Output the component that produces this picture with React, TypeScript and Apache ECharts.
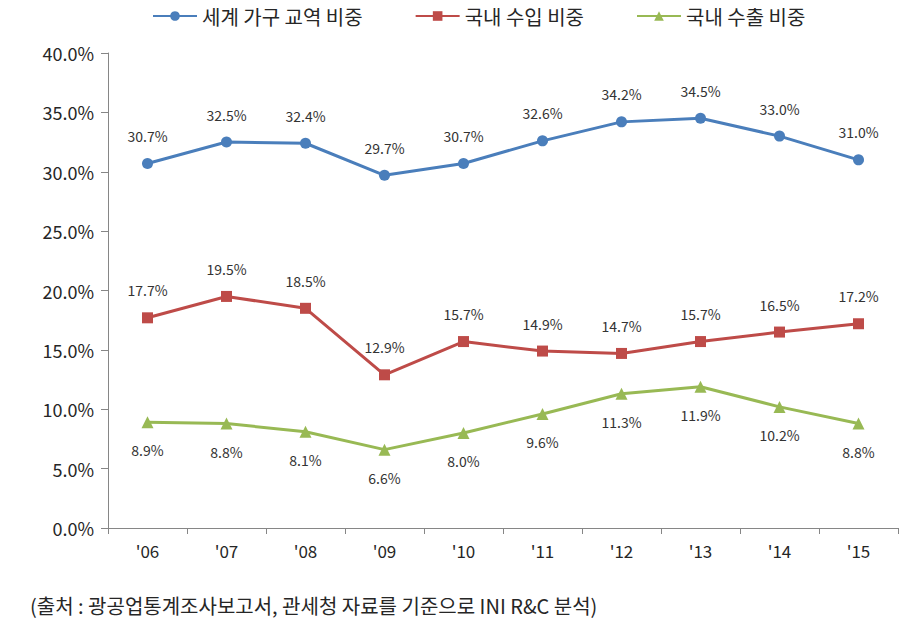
import React, { useEffect, useRef } from "react";
import * as echarts from "echarts";

const categories = ["'06", "'07", "'08", "'09", "'10", "'11", "'12", "'13", "'14", "'15"];
const worldFurniture = [30.7, 32.5, 32.4, 29.7, 30.7, 32.6, 34.2, 34.5, 33.0, 31.0];
const domesticImport = [17.7, 19.5, 18.5, 12.9, 15.7, 14.9, 14.7, 15.7, 16.5, 17.2];
const domesticExport = [8.9, 8.8, 8.1, 6.6, 8.0, 9.6, 11.3, 11.9, 10.2, 8.8];
const seriesNames = ["세계 가구 교역 비중", "국내 수입 비중", "국내 수출 비중"];
const sourceNote = "(출처 : 광공업통계조사보고서, 관세청 자료를 기준으로 INI R&C 분석)";

const FONT = "'Noto Sans CJK KR', 'Noto Sans', sans-serif";

export default function App() {
  const ref = useRef<HTMLDivElement>(null);
  useEffect(() => {
    if (!ref.current) return;
    const chart = echarts.init(ref.current, null, { renderer: "svg" });
    const labelCommon = {
      show: true,
      fontSize: 14,
      fontFamily: FONT,
      color: "#333333",
      formatter: (p: any) => `${Number(p.value).toFixed(1)}%`,
    };
    chart.setOption({
      animation: false,
      textStyle: { fontFamily: FONT },
      legend: {
        top: 1,
        left: 147,
        itemWidth: 44,
        itemHeight: 12,
        itemGap: 52,
        textStyle: { fontSize: 20, color: "#262626", fontFamily: FONT },
        data: seriesNames,
      },
      grid: { left: 108, right: 19, top: 53, bottom: 103, containLabel: false },
      xAxis: {
        type: "category",
        data: categories,
        boundaryGap: true,
        axisLine: { lineStyle: { color: "#868686", width: 1 } },
        axisTick: { show: true, length: 6, lineStyle: { color: "#868686" } },
        axisLabel: { fontSize: 17, color: "#262626", margin: 14, fontFamily: FONT },
      },
      yAxis: {
        type: "value",
        min: 0,
        max: 40,
        interval: 5,
        axisLine: { show: true, lineStyle: { color: "#868686", width: 1 } },
        axisTick: { show: true, length: 7, lineStyle: { color: "#868686" } },
        splitLine: { show: false },
        axisLabel: {
          fontSize: 18,
          color: "#262626",
          margin: 14,
          fontFamily: FONT,
          formatter: (v: number) => `${v.toFixed(1)}%`,
        },
      },
      graphic: [
        {
          type: "text",
          left: 30,
          top: 595,
          style: { text: sourceNote, fontSize: 20, fill: "#262626", fontFamily: FONT },
        },
      ],
      series: [
        {
          name: seriesNames[0],
          type: "line",
          data: worldFurniture,
          symbol: "circle",
          symbolSize: 11,
          lineStyle: { color: "#4A7EBB", width: 3 },
          itemStyle: { color: "#4A7EBB" },
          label: { ...labelCommon, position: "top", distance: 15 },
        },
        {
          name: seriesNames[1],
          type: "line",
          data: domesticImport,
          symbol: "rect",
          symbolSize: 11,
          lineStyle: { color: "#BE4B48", width: 3 },
          itemStyle: { color: "#BE4B48" },
          label: { ...labelCommon, position: "top", distance: 15 },
        },
        {
          name: seriesNames[2],
          type: "line",
          data: domesticExport,
          symbol: "triangle",
          symbolSize: 12,
          lineStyle: { color: "#98B954", width: 3 },
          itemStyle: { color: "#98B954" },
          label: { ...labelCommon, position: "bottom", distance: 15 },
        },
      ],
    });
    return () => chart.dispose();
  }, []);
  return <div ref={ref} style={{ width: 917, height: 631, margin: -8 }} />;
}
